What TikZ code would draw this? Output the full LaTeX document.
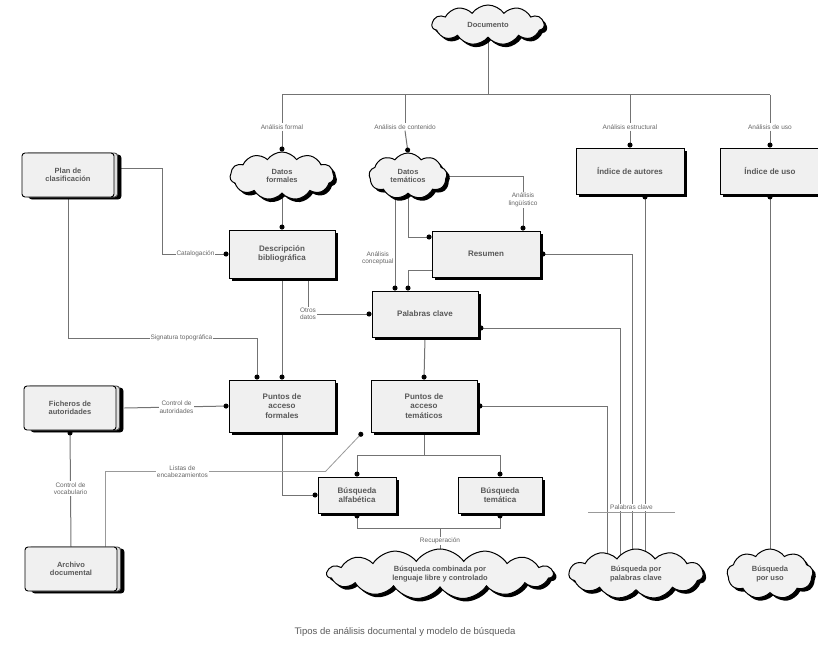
\documentclass[tikz,border=0pt]{standalone}
\usepackage{fontspec}
\setmainfont{Liberation Sans}
\usetikzlibrary{shapes.symbols,shadows,arrows.meta,backgrounds}
\begin{document}
\begin{tikzpicture}[x=1pt,y=-1pt,
  box/.style={draw=black, line width=0.9pt, fill=gray!12, align=center,
    font=\fontsize{8}{9.5}\selectfont\bfseries, text=black!65, inner sep=2pt,
    drop shadow={shadow xshift=2.5pt, shadow yshift=-2.5pt, fill=black, opacity=1}},
  cloudn/.style={cloud, cloud puffs=11, cloud puff arc=110, cloud ignores aspect, draw=black, line width=1pt,
    fill=gray!10, inner sep=0pt,
    drop shadow={shadow xshift=3pt, shadow yshift=-3pt, fill=black, opacity=1}},
  ctext/.style={align=center, font=\fontsize{7.5}{8.5}\selectfont\bfseries, text=black!65, inner sep=0pt},
  docn/.style={draw=black, line width=0.9pt, fill=gray!12, rounded corners=3pt, align=center,
    font=\fontsize{7.5}{8.5}\selectfont\bfseries, text=black!65, minimum width=92, minimum height=44,
    copy shadow={shadow xshift=7pt, shadow yshift=-2pt, fill=black, draw=black},
    copy shadow={shadow xshift=3.5pt, shadow yshift=0pt, fill=gray!25, draw=black!70}},
  lbl/.style={font=\fontsize{6.5}{7.5}\selectfont, text=black!60, align=center, fill=white, inner sep=1pt},
  line/.style={draw=black!55, line width=1pt},
  conn/.style={draw=black!55, line width=1pt, -{Circle[length=5pt,color=black]}},
  thin/.style={draw=black!40, line width=0.8pt}]
\useasboundingbox (0,0) rectangle (818,650);

% top
\node[cloudn, minimum width=112, minimum height=40,
  label={[ctext]center:Documento}] (doc) at (488,25) {};
\coordinate (bus) at (488,95);
\coordinate (b1) at (282,95);
\coordinate (b2) at (405,95);
\coordinate (b3) at (630,95);
\coordinate (b4) at (770,95);
\node[lbl] (L1) at (282,127) {Análisis formal};
\node[lbl] (L2) at (405,127) {Análisis de contenido};
\node[lbl] (L3) at (630,127) {Análisis estructural};
\node[lbl] (L4) at (770,127) {Análisis de uso};

% second row
\node[cloudn, minimum width=104, minimum height=48,
  label={[ctext]center:Datos\\formales}] (cl1) at (282,176) {};
\node[cloudn, minimum width=78, minimum height=46, cloud puffs=9,
  label={[ctext]center:Datos\\temáticos}] (cl2) at (408,176) {};
\node[box, minimum width=108, minimum height=46] (R1) at (630,171) {Índice de autores};
\node[box, minimum width=100, minimum height=46] (R2) at (770,171) {Índice de uso};
\node[docn] (dt) at (68,175) {Plan de\\clasificación};

% middle
\node[box, minimum width=106, minimum height=48] (desc) at (282,254) {Descripción\\bibliográfica};
\node[box, minimum width=108, minimum height=46] (res) at (486,254) {Resumen};
\node[box, minimum width=106, minimum height=46] (pal) at (425,314) {Palabras clave};

% lower
\node[box, minimum width=106, minimum height=52] (fa) at (282,406) {Puntos de\\acceso\\formales};
\node[box, minimum width=106, minimum height=52] (ta) at (424,406) {Puntos de\\acceso\\temáticos};
\node[docn] (dm) at (70,408) {Ficheros de\\autoridades};
\node[docn] (db) at (71,569) {Archivo\\documental};
\node[box, minimum width=78, minimum height=36] (ba) at (357,495) {Búsqueda\\alfabética};
\node[box, minimum width=84, minimum height=36] (bt) at (500,495) {Búsqueda\\temática};

% bottom clouds
\node[cloudn, minimum width=226, minimum height=50, cloud puffs=15,
  label={[ctext]center:Búsqueda combinada por\\lenguaje libre y controlado}] (cb1) at (440,574) {};
\node[cloudn, minimum width=134, minimum height=50,
  label={[ctext]center:Búsqueda por\\palabras clave}] (cb2) at (636,574) {};
\node[cloudn, minimum width=86, minimum height=50, cloud puffs=9,
  label={[ctext]center:Búsqueda\\por uso}] (cb3) at (770,574) {};
\node[lbl] (lb) at (440,541) {Recuperación};
\coordinate (kl) at (588,512);
\coordinate (kr) at (675,512);

\node[font=\fontsize{9.5}{10}\selectfont, text=black!65] (cap) at (405,632) {Tipos de análisis documental y modelo de búsqueda};

\begin{pgfonlayer}{background}
% top bus
\draw[line] (doc.center) -- (bus);
\draw[line] (b1) -- (b4);
\draw[line] (b1) -- (L1.north);
\draw[line] (b2) -- (L2.north);
\draw[line] (b3) -- (L3.north);
\draw[line] (b4) -- (L4.north);
\draw[conn] (L1.south) -- (cl1.north);
\draw[conn] (L2.south) -- (cl2.north);
\draw[conn] (L3.south) -- (R1.north);
\draw[conn] (L4.south) -- (R2.north);

% second row to middle
\draw[conn] (cl1.center) -- (desc.north);
\draw[conn] (cl2.center) |- ([yshift=17pt]res.west);
\draw[conn] (cl2.center) -| node[lbl, pos=0.72]{Análisis\\lingüístico} ([xshift=37pt]res.north);
\draw[conn] ([xshift=-13pt]cl2.center) -- node[lbl, left, pos=0.72]{Análisis\\conceptual} ([xshift=-30pt]pal.north);
\draw[conn] ([yshift=-16pt]res.west) -| ([xshift=-17pt]pal.north);
\draw[conn] ([xshift=26pt]desc.south) |- node[lbl, pos=0.5]{Otros\\datos} (pal.west);
\draw[conn] ([xshift=6pt, yshift=7pt]dt.east) -- ++(42,0) |- node[lbl, pos=0.75]{Catalogación} (desc.west);
\draw[conn] (dt.center) -- ++(0,163) -| node[lbl, pos=0.3]{Signatura topográfica} ([xshift=-25pt]fa.north);

% middle to lower
\draw[conn] (desc.south) -- (fa.north);
\draw[conn] (pal.south) -- (ta.north);
\draw[conn] (ta.south) -- ++(0,23) -| (ba.north);
\draw[conn] (ta.south) -- ++(0,23) -| (bt.north);
\draw[conn] (fa.south) |- (ba.west);
\draw[conn] ([xshift=8pt]dm.east) -- node[lbl]{Control de\\autoridades} (fa.west);
\draw[conn] (db.north) -- node[lbl]{Control de\\vocabulario} (dm.south);
\draw[thin, -{Circle[length=5pt,color=black]}] ([xshift=-12pt]db.north east) -- ++(0,-75) -- node[lbl, pos=0.35]{Listas de\\encabezamientos} ++(220,0) -- ([xshift=-8pt]ta.south west);

% bottom
\draw[line] (cb1.center) -- (lb.south);
\draw[conn] (lb.north) -- ++(0,-8) -| (ba.south);
\draw[conn] (lb.north) -- ++(0,-8) -| (bt.south);
\draw[conn] ([xshift=9pt]cb2.center) -- ([xshift=9pt]cb2.center |- R1.south);
\draw[conn] ([xshift=-4pt]cb2.center) |- (res.east);
\draw[conn] ([xshift=-16pt]cb2.center) |- ([yshift=-14pt]pal.east);
\draw[conn] ([xshift=-29pt]cb2.center) |- (ta.east);
\draw[thin] (kl) -- node[lbl, above=1pt]{Palabras clave} (kr);
\draw[conn] (cb3.center) -- (R2.south);
\end{pgfonlayer}
\end{tikzpicture}
\end{document}
